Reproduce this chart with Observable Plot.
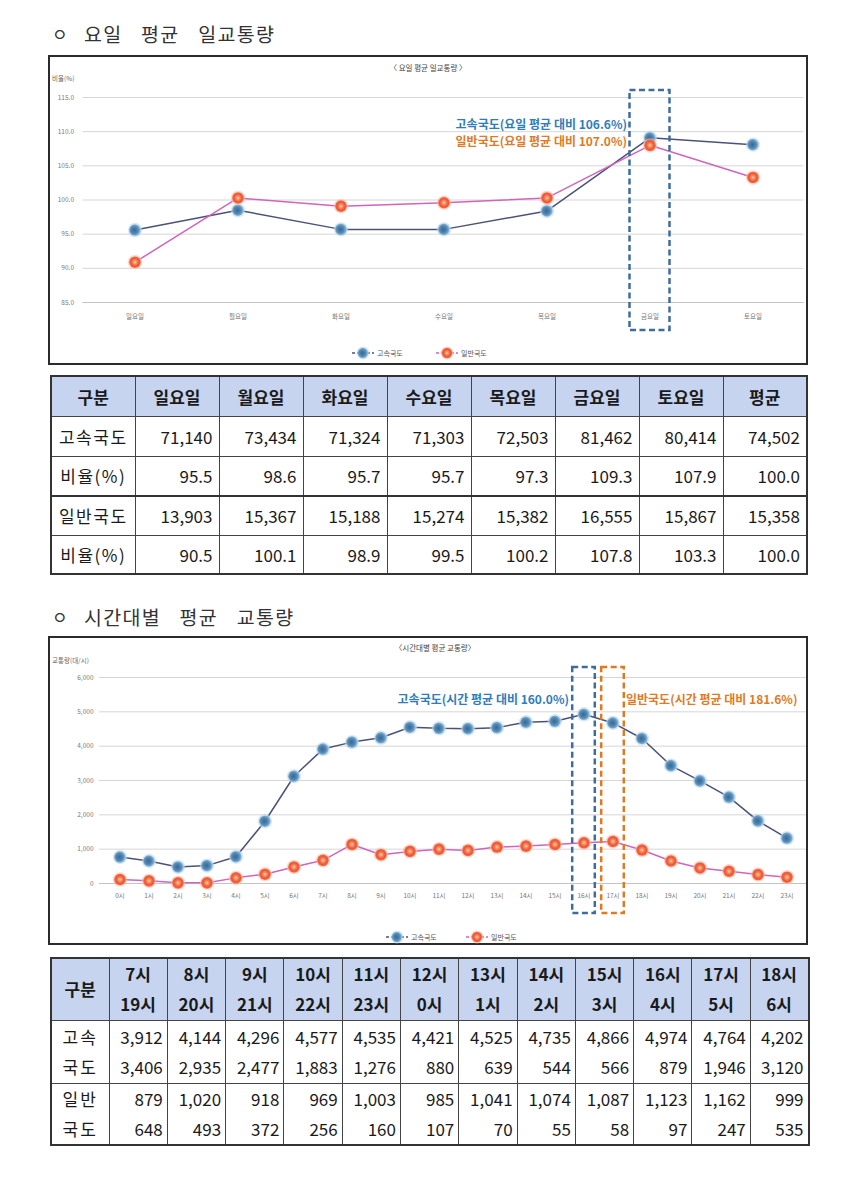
<!DOCTYPE html>
<html><head><meta charset="utf-8">
<script src="https://cdn.jsdelivr.net/npm/d3@7"></script>
<script src="https://cdn.jsdelivr.net/npm/@observablehq/plot@0.6"></script>
<style>
body{margin:0;background:#fff;font-family:"Noto Sans CJK KR","Noto Sans",sans-serif;}
#page{position:relative;width:850px;height:1183px;overflow:hidden;background:#fff;}
.h{position:absolute;left:52px;font-size:19.5px;line-height:20px;color:#333;letter-spacing:1.3px;word-spacing:13px;white-space:nowrap;}
.h .b{font-size:17px;margin-right:15px;vertical-align:1px;}
.frame{position:absolute;left:48px;width:756px;border:2px solid #2b2b2b;background:#fff;}
.frame svg{display:block;}
.ct{position:absolute;font-size:7.5px;color:#444;white-space:nowrap;transform:translateX(-50%);}
.yl{position:absolute;font-size:6.5px;color:#666;white-space:nowrap;}
.lg{position:absolute;font-size:7px;color:#555;white-space:nowrap;display:flex;align-items:center;}
.lg svg{display:block;margin-right:3px;}
table{position:absolute;left:50px;border-collapse:collapse;border:2px solid #333;table-layout:fixed;}
td,th{border:1px solid #444;padding:0;font-size:17px;color:#1a1a1a;}
th{background:#c6d4ef;font-weight:bold;text-align:center;}
td.lab{text-align:center;letter-spacing:1.5px;}
td.num{text-align:right;padding-right:6px;}
tr.sep td{border-top:2px solid #333;}
#t2 th{line-height:30px;}
#t2 td{line-height:30px;}
#t2 td.num{padding-right:4px;}
#t2 td.lab{letter-spacing:2px;}
</style>
</head><body>
<svg width="0" height="0" style="position:absolute">
  <defs>
    <radialGradient id="gBlue" cx="45%" cy="50%" r="55%">
      <stop offset="0%" stop-color="#3a6890"/>
      <stop offset="55%" stop-color="#5288b3"/>
      <stop offset="85%" stop-color="#7fb0d6"/>
      <stop offset="100%" stop-color="#a9cde8"/>
    </radialGradient>
    <radialGradient id="gOrange" cx="50%" cy="50%" r="55%">
      <stop offset="0%" stop-color="#ffd2b8"/>
      <stop offset="30%" stop-color="#f58a60"/>
      <stop offset="65%" stop-color="#ee5533"/>
      <stop offset="100%" stop-color="#f47a58"/>
    </radialGradient>
  </defs>
</svg>
<div id="page"></div>
<script>
// ---------- data ----------
const FONT = "'Noto Sans CJK KR','Noto Sans',sans-serif";
const sectionTitles = ["요일 평균 일교통량", "시간대별 평균 교통량"];
const chartTitles = ["〈 요일 평균 일교통량 〉", "〈시간대별 평균 교통량〉"];
const yLabels = ["비율(%)", "교통량(대/시)"];
const seriesNames = ["고속국도", "일반국도"];

// Chart 1 (ratio vs. weekday average)
const days = ["일요일", "월요일", "화요일", "수요일", "목요일", "금요일", "토요일"];
const dayHwyRatio = [95.6, 98.5, 95.7, 95.7, 98.4, 109.1, 108.1];
const dayNatRatio = [90.9, 100.3, 99.1, 99.6, 100.3, 108.0, 103.3];
const dayTicks = [85, 90, 95, 100, 105, 110, 115];
const dayHighlight = ["금요일"];
const dayNotes = ["고속국도(요일 평균 대비 106.6%)", "일반국도(요일 평균 대비 107.0%)"];

// Table 1
const tableDayCols = ["일요일", "월요일", "화요일", "수요일", "목요일", "금요일", "토요일", "평균"];
const hwyDayVolume = [71140, 73434, 71324, 71303, 72503, 81462, 80414, 74502];
const hwyDayRatio = [95.5, 98.6, 95.7, 95.7, 97.3, 109.3, 107.9, 100.0];
const natDayVolume = [13903, 15367, 15188, 15274, 15382, 16555, 15867, 15358];
const natDayRatio = [90.5, 100.1, 98.9, 99.5, 100.2, 107.8, 103.3, 100.0];

// Chart 2 (hourly volume)
const hours = ["0시","1시","2시","3시","4시","5시","6시","7시","8시","9시","10시","11시",
               "12시","13시","14시","15시","16시","17시","18시","19시","20시","21시","22시","23시"];
const hwyHourly = [771, 656, 482, 521, 781, 1813, 3124, 3915, 4118, 4243, 4552, 4520,
                   4510, 4540, 4696, 4725, 4928, 4677, 4224, 3433, 2989, 2517, 1823, 1321];
const natHourly = [116, 77, 19, 19, 164, 270, 482, 675, 1138, 839, 935, 1000,
                   964, 1061, 1090, 1138, 1186, 1225, 974, 656, 453, 357, 260, 183];
const hourTicks = [0, 1000, 2000, 3000, 4000, 5000, 6000];
const hourHighlightHwy = ["16시"];
const hourHighlightNat = ["17시"];
const hourNotes = ["고속국도(시간 평균 대비 160.0%)", "일반국도(시간 평균 대비 181.6%)"];

// Table 2 (indexed by hour 0..23)
const hwyHourTable = [880, 639, 544, 566, 879, 1946, 3120, 3912, 4144, 4296, 4577, 4535,
                      4421, 4525, 4735, 4866, 4974, 4764, 4202, 3406, 2935, 2477, 1883, 1276];
const natHourTable = [107, 70, 55, 58, 97, 247, 535, 879, 1020, 918, 969, 1003,
                      985, 1041, 1074, 1087, 1123, 1162, 999, 648, 493, 372, 256, 160];
const tableTopHours = [7, 8, 9, 10, 11, 12, 13, 14, 15, 16, 17, 18];
const tableBottomHours = [19, 20, 21, 22, 23, 0, 1, 2, 3, 4, 5, 6];
const tableRowLabels = ["고속<br>국도", "일반<br>국도"];

// ---------- styles ----------
const C = {hwyLine: "#4b5277", natLine: "#d064be", hwyHalo: "#bcd7ec", natHalo: "#f9bba5",
           blueBox: "#3d6d9c", orangeBox: "#df7a22", blueText: "#2f7cbc", orangeText: "#e07a24"};

const page = document.getElementById("page");
function el(tag, cls, html, css) {
  const e = document.createElement(tag);
  if (cls) e.className = cls;
  if (html != null) e.innerHTML = html;
  if (css) Object.assign(e.style, css);
  page.appendChild(e);
  return e;
}

function seriesMarks(data, x, key, line, halo, grad) {
  return [
    Plot.line(data, {x, y: key, stroke: line, strokeWidth: 1.5}),
    Plot.dot(data, {x, y: key, r: 7.2, fill: halo, fillOpacity: 0.6}),
    Plot.dot(data, {x, y: key, r: 5.8, fill: grad})
  ];
}

// ---------- section 1 ----------
el("div", "h", `<span class="b">ㅇ</span>${sectionTitles[0]}`, {top: "24px"});
const f1 = el("div", "frame", null, {top: "55px", height: "306px"});
const dayData = days.map((d, i) => ({day: d, hwy: dayHwyRatio[i], nat: dayNatRatio[i]}));
const chart1 = Plot.plot({
  width: 756, height: 306,
  marginLeft: 32.5, marginRight: 2.5, marginTop: 40, marginBottom: 61,
  style: {fontFamily: FONT, background: "transparent", overflow: "visible"},
  x: {type: "band", domain: days, padding: 0},
  y: {domain: [dayTicks[0], dayTicks[dayTicks.length - 1]]},
  marks: [
    Plot.gridY(dayTicks, {stroke: "#d6d6d6", strokeOpacity: 1}),
    Plot.ruleY([dayTicks[0]], {stroke: "#c4c4c4"}),
    Plot.axisY(dayTicks, {tickSize: 0, tickPadding: 9, tickFormat: d3.format(".1f"), fontSize: 6.5, fill: "#777", label: null}),
    Plot.axisX({tickSize: 0, tickPadding: 12, fontSize: 6.5, fill: "#777", label: null}),
    ...seriesMarks(dayData, "day", "hwy", C.hwyLine, C.hwyHalo, "url(#gBlue)"),
    ...seriesMarks(dayData, "day", "nat", C.natLine, C.natHalo, "url(#gOrange)"),
    Plot.barY(dayHighlight, {x: d => d, y1: dayTicks[0], y2: dayTicks[dayTicks.length - 1], fill: "none",
      stroke: C.blueBox, strokeWidth: 2.5, strokeDasharray: "6,3.5",
      insetLeft: 31.5, insetRight: 31.5, insetTop: -7, insetBottom: -28}),
    Plot.text([dayNotes[0]], {x: () => dayHighlight[0], text: d => d, frameAnchor: "top", dy: 23, dx: -23,
      textAnchor: "end", fill: C.blueText, fontSize: 12, fontWeight: "bold"}),
    Plot.text([dayNotes[1]], {x: () => dayHighlight[0], text: d => d, frameAnchor: "top", dy: 40, dx: -23,
      textAnchor: "end", fill: C.orangeText, fontSize: 12, fontWeight: "bold"})
  ]
});
f1.appendChild(chart1);
el("div", "ct", chartTitles[0], {left: "428px", top: "62px"});
el("div", "yl", yLabels[0], {left: "52px", top: "73px"});

function legendItem(name, color, halo, grad, cx, cy) {
  const html = `<svg width="22" height="14"><line x1="0" x2="22" y1="7" y2="7" stroke="${color}" stroke-width="1.5" stroke-dasharray="3,2"/>
    <circle cx="11" cy="7" r="6.5" fill="${halo}" fill-opacity="0.6"/><circle cx="11" cy="7" r="5.2" fill="${grad}"/></svg>${name}`;
  el("div", "lg", html, {left: (cx - 11) + "px", top: (cy - 7) + "px"});
}
legendItem(seriesNames[0], C.hwyLine, C.hwyHalo, "url(#gBlue)", 363, 353);
legendItem(seriesNames[1], C.natLine, C.natHalo, "url(#gOrange)", 447, 353);

// table 1
const fmtInt = d3.format(",");
const fmt1 = d3.format(".1f");
function rowHtml(label, vals, fmt, h, cls) {
  return `<tr style="height:${h}px"${cls ? ` class="${cls}"` : ""}><td class="lab">${label}</td>${vals.map(v => `<td class="num">${fmt(v)}</td>`).join("")}</tr>`;
}
const t1 = el("table", null, null, {top: "375px", width: "758px"});
t1.innerHTML =
  `<colgroup><col style="width:84px">${tableDayCols.map(() => '<col style="width:84px">').join("")}</colgroup>` +
  `<tr style="height:40px"><th>구분</th>${tableDayCols.map(d => `<th>${d}</th>`).join("")}</tr>` +
  rowHtml(seriesNames[0], hwyDayVolume, fmtInt, 40) +
  rowHtml("비율(%)", hwyDayRatio, fmt1, 40) +
  rowHtml(seriesNames[1], natDayVolume, fmtInt, 39, "sep") +
  rowHtml("비율(%)", natDayRatio, fmt1, 39);

// ---------- section 2 ----------
el("div", "h", `<span class="b">ㅇ</span>${sectionTitles[1]}`, {top: "607px"});
const f2 = el("div", "frame", null, {top: "636px", height: "305px"});
const hourData = hours.map((h, i) => ({hour: h, hwy: hwyHourly[i], nat: natHourly[i]}));
const chart2 = Plot.plot({
  width: 756, height: 305,
  marginLeft: 49, marginRight: 0, marginTop: 39, marginBottom: 60,
  style: {fontFamily: FONT, background: "transparent", overflow: "visible"},
  x: {type: "band", domain: hours, padding: 0},
  y: {domain: [hourTicks[0], hourTicks[hourTicks.length - 1]]},
  marks: [
    Plot.gridY(hourTicks, {stroke: "#d6d6d6", strokeOpacity: 1}),
    Plot.ruleY([hourTicks[0]], {stroke: "#c4c4c4"}),
    Plot.axisY(hourTicks, {tickSize: 0, tickPadding: 6, tickFormat: d3.format(","), fontSize: 6.5, fill: "#777", label: null}),
    Plot.axisX({tickSize: 0, tickPadding: 10, fontSize: 6.5, fill: "#777", label: null}),
    ...seriesMarks(hourData, "hour", "hwy", C.hwyLine, C.hwyHalo, "url(#gBlue)"),
    ...seriesMarks(hourData, "hour", "nat", C.natLine, C.natHalo, "url(#gOrange)"),
    Plot.barY(hourHighlightHwy, {x: d => d, y1: hourTicks[0], y2: hourTicks[hourTicks.length - 1], fill: "none",
      stroke: C.blueBox, strokeWidth: 2.5, strokeDasharray: "6,3.5",
      insetLeft: 3.2, insetRight: 3.2, insetTop: -10, insetBottom: -30}),
    Plot.barY(hourHighlightNat, {x: d => d, y1: hourTicks[0], y2: hourTicks[hourTicks.length - 1], fill: "none",
      stroke: C.orangeBox, strokeWidth: 2.5, strokeDasharray: "6,3.5",
      insetLeft: 3.2, insetRight: 3.2, insetTop: -10, insetBottom: -30}),
    Plot.text([hourNotes[0]], {x: () => hourHighlightHwy[0], text: d => d, frameAnchor: "top", dy: 18, dx: -15,
      textAnchor: "end", fill: C.blueText, fontSize: 12, fontWeight: "bold"}),
    Plot.text([hourNotes[1]], {x: () => hourHighlightNat[0], text: d => d, frameAnchor: "top", dy: 18, dx: 13,
      textAnchor: "start", fill: C.orangeText, fontSize: 12, fontWeight: "bold"})
  ]
});
f2.appendChild(chart2);
el("div", "ct", chartTitles[1], {left: "435px", top: "642px"});
el("div", "yl", yLabels[1], {left: "52px", top: "655px"});
legendItem(seriesNames[0], C.hwyLine, C.hwyHalo, "url(#gBlue)", 397, 937);
legendItem(seriesNames[1], C.natLine, C.natHalo, "url(#gOrange)", 477, 937);

// table 2
const t2 = el("table", null, null, {top: "957px", width: "758px"});
t2.id = "t2";
const hCell = (a, b) => `<th>${a}시<br>${b}시</th>`;
const vCell = (arr, a, b) => `<td class="num">${fmtInt(arr[a])}<br>${fmtInt(arr[b])}</td>`;
t2.innerHTML =
  `<colgroup><col style="width:58px">${tableTopHours.map(() => '<col style="width:58.3px">').join("")}</colgroup>` +
  `<tr style="height:62px"><th>구분</th>${tableTopHours.map((h, i) => hCell(h, tableBottomHours[i])).join("")}</tr>` +
  `<tr style="height:63px"><td class="lab">${tableRowLabels[0]}</td>${tableTopHours.map((h, i) => vCell(hwyHourTable, h, tableBottomHours[i])).join("")}</tr>` +
  `<tr style="height:61px"><td class="lab">${tableRowLabels[1]}</td>${tableTopHours.map((h, i) => vCell(natHourTable, h, tableBottomHours[i])).join("")}</tr>`;
</script>
</body></html>
